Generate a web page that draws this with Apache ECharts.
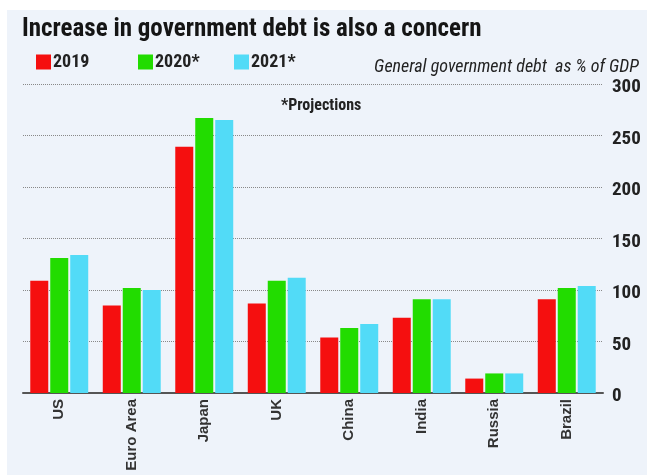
<!DOCTYPE html>
<html>

<head>
    <meta charset="utf-8">
    <script src="https://cdn.jsdelivr.net/npm/echarts@6/dist/echarts.min.js"></script>
    <style>
        html, body { margin: 0; padding: 0; background: #fff; }
        #main { width: 647px; height: 475px; }
    </style>
</head>

<body>
    <div id="main"></div>
    <script type="text/javascript">

        var countries = ['US', 'Euro Area', 'Japan', 'UK', 'China', 'India', 'Russia', 'Brazil'];
        var debt2019 = [109, 85, 239, 87, 54, 73, 14, 91];
        var debt2020 = [131, 102, 267, 109, 63, 91, 19, 102];
        var debt2021 = [134, 100, 265, 112, 67, 91, 19, 104];
        var yTicks = [0, 50, 100, 150, 200, 250, 300];

        var narrow = '"Liberation Sans Narrow", "Arial Narrow", "Roboto Condensed", sans-serif';

        var myChart = echarts.init(document.getElementById('main'));

        //图例分开放，位置好控制
        function legendAt(name, x) {
            return {
                data: [name], left: x, top: 48, itemWidth: 15, itemHeight: 15,
                icon: 'rect', itemGap: 3, selectedMode: false,
                textStyle: { fontFamily: narrow, fontSize: 18, fontWeight: 'bold', color: '#222', padding: [0, 0, 0, -3] }
            };
        }

        var option = {
            backgroundColor: '#fff',
            animation: false,
            graphic: [{
                type: 'rect', z: -10, silent: true,
                shape: { x: 7, y: 10, width: 640, height: 465 },
                style: { fill: '#eef3fa' }
            }],
            title: [{
                text: 'Increase in government debt is also a concern',
                left: 17, top: 12,
                textStyle: { fontFamily: narrow, fontSize: 25, fontWeight: 'bold', color: '#151515' }
            }, {
                text: 'General government debt  as % of GDP',
                right: 3, top: 53,
                textStyle: { fontFamily: narrow, fontSize: 18, fontStyle: 'italic', fontWeight: 'normal', color: '#222' }
            }, {
                text: '*Projections',
                left: 276, top: 93,
                textStyle: { fontFamily: narrow, fontSize: 16, fontWeight: 'bold', color: '#222' }
            }],
            legend: [legendAt('2019', 31), legendAt('2020*', 133), legendAt('2021*', 229)],
            grid: { left: 23, right: 44, top: 84, bottom: 82 },
            xAxis: {
                type: 'category',
                data: countries,
                axisTick: { show: false },
                axisLine: { lineStyle: { color: '#555', width: 2 } },
                axisLabel: {
                    rotate: 90, margin: 6, interval: 0,
                    fontFamily: 'Liberation Sans', fontSize: 15, fontWeight: 'bold', color: '#333'
                }
            },
            yAxis: {
                type: 'value',
                position: 'right',
                min: yTicks[0], max: yTicks[yTicks.length - 1], interval: 50,
                axisLine: { show: false },
                axisTick: { show: false },
                axisLabel: { margin: 9, fontFamily: narrow, fontSize: 19, fontWeight: 'bold', color: '#222', verticalAlign: 'top', padding: [-6, 0, 0, 0] },
                splitLine: { lineStyle: { color: '#888', type: 'dotted', width: 1 } }
            },
            series: [
                { name: '2019', type: 'bar', data: debt2019, barWidth: 18, barGap: '11%', itemStyle: { color: '#f50f0f' } },
                { name: '2020*', type: 'bar', data: debt2020, barWidth: 18, barGap: '11%', itemStyle: { color: '#22dc00' } },
                { name: '2021*', type: 'bar', data: debt2021, barWidth: 18, barGap: '11%', itemStyle: { color: '#52dbf7' } }
            ]
        };

        myChart.setOption(option);
    </script>
</body>

</html>
